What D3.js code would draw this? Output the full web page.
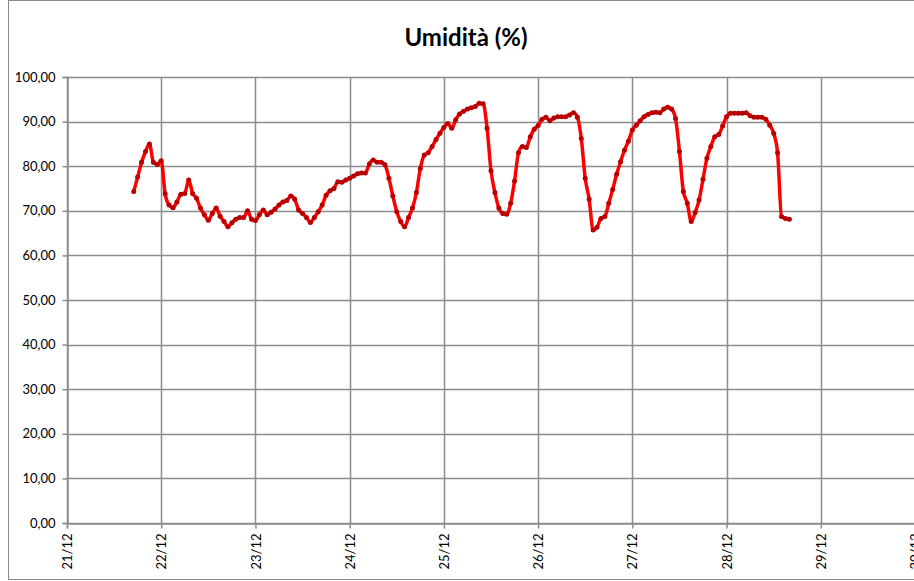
<!DOCTYPE html>
<html>
<head>
<meta charset="utf-8">
<script src="https://cdn.jsdelivr.net/npm/d3@7"></script>
<style>
  html, body { margin: 0; padding: 0; background: #fff; }
  svg { display: block; }
  text { font-family: Lato, "Open Sans", sans-serif; }
</style>
</head>
<body>
<svg id="chart" width="914" height="581"></svg>
<script>
// ---- data (hourly readings, first reading 21/12 17:00) ----
const title = "Umidità (%)";
const startTime = Date.UTC(2012, 11, 21, 17, 0);
const stepHours = 1;
const humidity = [
  74.3, 77.6, 80.9, 83.3, 85.0, 80.9, 80.4, 81.2, 73.8, 71.3,
  70.7, 72.0, 73.7, 73.9, 76.9, 73.9, 72.8, 70.6, 69.1, 67.9,
  69.4, 70.6, 68.8, 67.6, 66.4, 67.3, 68.1, 68.5, 68.5, 70.0,
  68.1, 67.8, 69.1, 70.2, 69.1, 69.7, 70.4, 71.3, 72.0, 72.3,
  73.3, 72.6, 70.2, 69.4, 68.5, 67.4, 68.5, 69.8, 71.3, 73.5,
  74.5, 75.0, 76.5, 76.4, 76.9, 77.3, 77.8, 78.3, 78.5, 78.5,
  80.5, 81.4, 80.9, 80.9, 80.3, 77.3, 73.3, 69.8, 67.6, 66.4,
  68.5, 70.6, 74.1, 79.5, 82.5, 83.0, 84.4, 86.0, 87.4, 88.7,
  89.6, 88.5, 90.4, 91.7, 92.3, 92.8, 93.1, 93.4, 94.1, 94.0,
  88.5, 79.0, 74.1, 70.6, 69.4, 69.2, 71.7, 76.7, 83.0, 84.4,
  84.2, 86.6, 88.3, 89.1, 90.5, 91.0, 90.2, 90.8, 91.1, 91.1,
  91.1, 91.5, 92.0, 91.0, 86.2, 77.3, 72.6, 65.7, 66.3, 68.3,
  68.7, 71.7, 74.8, 78.2, 81.0, 83.6, 85.6, 88.1, 89.2, 90.2,
  91.1, 91.6, 92.0, 92.1, 92.0, 92.8, 93.2, 92.8, 90.7, 83.3,
  74.3, 71.7, 67.6, 69.6, 72.4, 77.1, 81.8, 84.4, 86.6, 87.1,
  89.0, 91.1, 91.9, 91.9, 91.9, 91.9, 92.0, 91.3, 91.0, 91.0,
  91.0, 90.5, 89.2, 87.4, 83.0, 68.7, 68.3, 68.1
];
const xTickLabels = ["21/12","22/12","23/12","24/12","25/12","26/12","27/12","28/12","29/12","30/12"];
const yTicks = [0, 10, 20, 30, 40, 50, 60, 70, 80, 90, 100];

// ---- layout ----
const svg = d3.select("#chart");
const W = 914, H = 581;
const mLeft = 67, mTop = 77, mBottom = 523, mRight = 915;

const dayStart = Date.UTC(2012, 11, 21);
const dayMs = 86400000;
const xDomainEnd = dayStart + (xTickLabels.length - 1) * dayMs;

const x = d3.scaleUtc().domain([new Date(dayStart), new Date(xDomainEnd)]).range([mLeft, mRight]);
const y = d3.scaleLinear().domain([0, 100]).range([mBottom, mTop]);

const data = humidity.map((v, i) => ({ t: new Date(startTime + i * stepHours * 3600000), v }));
const tickDates = xTickLabels.map((_, i) => new Date(dayStart + i * dayMs));

// outer chart border
svg.append("rect").attr("x", 8.5).attr("y", 0.5).attr("width", W + 20).attr("height", H - 2)
  .attr("fill", "none").attr("stroke", "#8a8a8a").attr("stroke-width", 1);

const grid = "#8c8c8c";

// horizontal grid
svg.append("g").selectAll("line").data(yTicks).join("line")
  .attr("x1", mLeft).attr("x2", W)
  .attr("y1", d => Math.round(y(d)) + 0.5).attr("y2", d => Math.round(y(d)) + 0.5)
  .attr("stroke", grid).attr("stroke-width", 1.5);

// vertical grid
svg.append("g").selectAll("line").data(tickDates).join("line")
  .attr("x1", d => Math.round(x(d)) + 0.5).attr("x2", d => Math.round(x(d)) + 0.5)
  .attr("y1", mTop).attr("y2", mBottom)
  .attr("stroke", grid).attr("stroke-width", 1.5);

// y axis
const fmt = d => d3.format(".2f")(d).replace(".", ",");
const yAxis = d3.axisLeft(y).tickValues(yTicks).tickFormat(fmt).tickSize(5).tickPadding(7);
const gy = svg.append("g").attr("transform", `translate(${mLeft + 0.5},0)`).call(yAxis);
gy.select(".domain").attr("stroke", grid).attr("stroke-width", 1.5);
gy.selectAll(".tick line").attr("stroke", grid).attr("stroke-width", 1.5);
gy.selectAll(".tick text").attr("font-size", 13).attr("fill", "#000")
  .style("font-family", "Lato, 'Open Sans', sans-serif");

// x axis
const xAxis = d3.axisBottom(x).tickValues(tickDates).tickFormat((d, i) => xTickLabels[i]).tickSize(5);
const gx = svg.append("g").attr("transform", `translate(0,${mBottom + 0.5})`).call(xAxis);
gx.select(".domain").attr("stroke", grid).attr("stroke-width", 1.5);
gx.selectAll(".tick line").attr("stroke", grid).attr("stroke-width", 1.5);
gx.selectAll(".tick text").attr("font-size", 13).attr("fill", "#000")
  .style("font-family", "Lato, 'Open Sans', sans-serif")
  .attr("transform", "rotate(-90)")
  .attr("text-anchor", "end")
  .attr("x", -10).attr("y", 0).attr("dy", "0.35em");

// line
const line = d3.line().x(d => x(d.t)).y(d => y(d.v)).curve(d3.curveMonotoneX);
svg.append("path").datum(data).attr("d", line)
  .attr("fill", "none").attr("stroke", "#ff0000").attr("stroke-width", 3.5)
  .attr("stroke-linejoin", "round").attr("stroke-linecap", "round");

// markers
svg.append("g").selectAll("circle").data(data).join("circle")
  .attr("cx", d => x(d.t)).attr("cy", d => y(d.v)).attr("r", 2.5)
  .attr("fill", "#b80000");

// title
svg.append("text").attr("x", 466).attr("y", 46).attr("text-anchor", "middle")
  .attr("font-size", 24).attr("font-weight", "bold").attr("fill", "#000")
  .text(title);
</script>
</body>
</html>
